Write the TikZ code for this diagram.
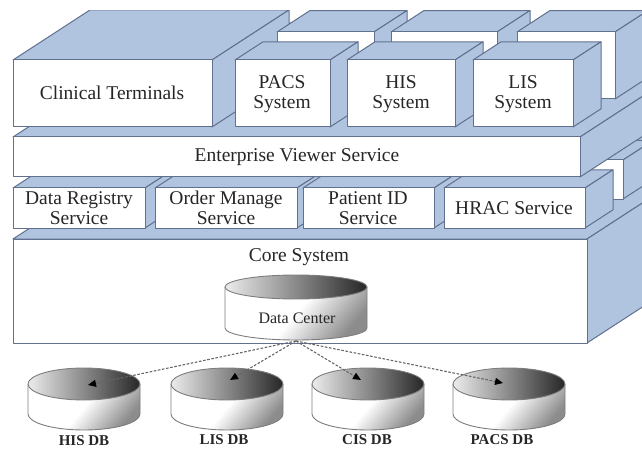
\documentclass[tikz,border=0pt]{standalone}
\usepackage{fontspec}
\setmainfont{Liberation Serif}
\usetikzlibrary{arrows.meta}
\definecolor{facebl}{RGB}{176,196,224}
\definecolor{edgebl}{RGB}{96,112,142}
\definecolor{inkc}{RGB}{38,38,38}
\definecolor{cylline}{RGB}{125,125,125}
\tikzset{
  face/.style={fill=facebl, draw=edgebl, line width=1pt, line join=round},
  front/.style={fill=white, draw=edgebl, line width=1pt, line join=round},
  lbl/.style={text=inkc, font=\fontsize{19.5}{19.5}\selectfont, align=center, inner sep=0pt},
  dclbl/.style={text=inkc, font=\fontsize{16}{16}\selectfont, inner sep=0pt},
  dblbl/.style={text=inkc, font=\fontsize{15}{15}\selectfont\bfseries, inner sep=0pt},
  cyltop/.style={left color=gray!15, right color=black!85},
  cylbody/.style={top color=white, bottom color=black!45, middle color=white, shading angle=50},
  cyledge/.style={draw=cylline, line width=0.9pt},
  link/.style={draw=gray!80!black, line width=1.1pt, dash pattern=on 2.6pt off 1.6pt,
    -{Triangle[length=8pt,width=7pt,color=black]}}
}
% box with white front face (x1,y1)-(x2,y2) and receding top/right faces of depth #5
\newcommand{\blok}[5]{%
  \filldraw[face] (#1,#2) -- (#3,#2) -- ({#3+#5},{#2-0.65*#5}) -- ({#1+#5},{#2-0.65*#5}) -- cycle;
  \filldraw[face] (#3,#2) -- (#3,#4) -- ({#3+#5},{#4-0.65*#5}) -- ({#3+#5},{#2-0.65*#5}) -- cycle;
  \filldraw[front] (#1,#2) rectangle (#3,#4);
}
% shaded cylinder: centre x, top-ellipse y, bottom-ellipse y, x radius, y radius
\newcommand{\dbcyl}[5]{%
  \shade[cylbody] ({#1-#4},#2) -- ({#1-#4},#3) arc[start angle=180, end angle=0, x radius=#4, y radius=#5]
     -- ({#1+#4},#2) arc[start angle=0, end angle=180, x radius=#4, y radius=#5] -- cycle;
  \draw[cyledge] ({#1-#4},#2) -- ({#1-#4},#3) arc[start angle=180, end angle=0, x radius=#4, y radius=#5]
     -- ({#1+#4},#2);
  \shade[cyltop] (#1,#2) ellipse[x radius=#4, y radius=#5];
  \draw[cyledge] (#1,#2) ellipse[x radius=#4, y radius=#5];
}
\begin{document}
\begin{tikzpicture}[x=1pt,y=-1pt]
\useasboundingbox (0,0) rectangle (642,449);

\begin{scope}
  \clip (0,11) rectangle (642,449);
  % core layer
  \blok{13}{239}{587}{343}{180}
  % service row behind
  \blok{486}{160}{623}{199}{30}
  % service row
  \blok{13}{188}{145}{228}{28}
  \blok{155}{188}{297}{228}{28}
  \blok{303}{188}{434}{228}{28}
  \blok{444}{188}{585}{228}{28}
  % viewer layer
  \blok{13}{137}{580}{177}{175}
  % terminals
  \blok{13}{60}{212}{127}{77}
  % system row behind
  \blok{277}{32}{374}{99}{33}
  \blok{391}{32}{497}{99}{33}
  \blok{517}{32}{615}{99}{33}
  % system row
  \blok{235}{60}{330}{127}{28}
  \blok{347}{60}{455}{127}{28}
  \blok{473}{60}{573}{127}{28}
\end{scope}

% labels of the layers
\node[lbl] (ct)   at (112,93)  {Clinical Terminals};
\node[lbl] (pacs) at (282,94)  {PACS\\System};
\node[lbl] (his)  at (401,94)  {HIS\\System};
\node[lbl] (lis)  at (523,94)  {LIS\\System};
\node[lbl] (ev)   at (297,157) {Enterprise Viewer Service};
\node[lbl] (dr)   at (79,208)  {Data Registry\\Service};
\node[lbl] (om)   at (226,208) {Order Manage\\Service};
\node[lbl] (pid)  at (368,208) {Patient ID\\Service};
\node[lbl] (hrac) at (514,208) {HRAC Service};
\node[lbl] (core) at (299,257) {Core System};

% data center
\dbcyl{296}{287}{328}{71}{12}
\node[dclbl] (dc) at (297,318) {Data Center};
\coordinate (dcs) at (296,341);

% databases
\dbcyl{84}{384}{414}{56}{16}
\dbcyl{227}{384}{414}{56}{16}
\dbcyl{368}{384}{414}{56}{16}
\dbcyl{509}{384}{414}{56}{16}
\coordinate (hisdb)  at (88,385);
\coordinate (lisdb)  at (230,380);
\coordinate (cisdb)  at (361,380);
\coordinate (pacsdb) at (503,383);
\node[dblbl] (hisl)  at (84,441)  {HIS DB};
\node[dblbl] (lisl)  at (224,440) {LIS DB};
\node[dblbl] (cisl)  at (367,440) {CIS DB};
\node[dblbl] (pacsl) at (502,440) {PACS DB};

% replication links
\draw[link] (dcs) -- (hisdb);
\draw[link] (dcs) -- (lisdb);
\draw[link] (dcs) -- (cisdb);
\draw[link] (dcs) -- (pacsdb);
\end{tikzpicture}
\end{document}
